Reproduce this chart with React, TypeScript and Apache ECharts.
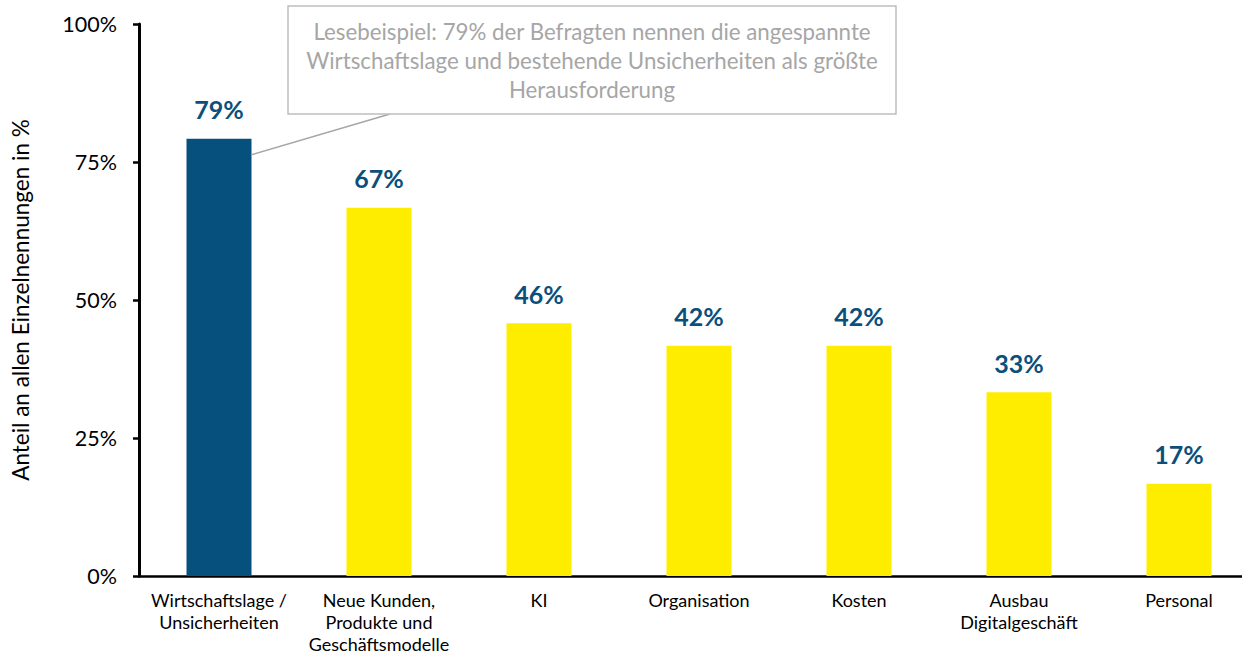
import React, { useEffect, useRef } from "react";
import * as echarts from "echarts";

const categories = [
  "Wirtschaftslage /\nUnsicherheiten",
  "Neue Kunden,\nProdukte und\nGeschäftsmodelle",
  "KI",
  "Organisation",
  "Kosten",
  "Ausbau\nDigitalgeschäft",
  "Personal",
];
const values = [79.2, 66.7, 45.8, 41.7, 41.7, 33.3, 16.7];
const barColors = ["#06507E", "#FFED00", "#FFED00", "#FFED00", "#FFED00", "#FFED00", "#FFED00"];
const yTicks = [0, 25, 50, 75, 100];
const yAxisTitle = "Anteil an allen Einzelnennungen in %";
const calloutText =
  "Lesebeispiel: 79% der Befragten nennen die angespannte\nWirtschaftslage und bestehende Unsicherheiten als größte\nHerausforderung";

const FONT = "Lato, 'Open Sans', sans-serif";

export default function App() {
  const ref = useRef<HTMLDivElement>(null);
  useEffect(() => {
    if (!ref.current) return;
    const chart = echarts.init(ref.current, null, { renderer: "svg" });
    const barWidth = 65;
    chart.setOption({
      animation: false,
      textStyle: { fontFamily: FONT },
      grid: { left: 139, top: 24, width: 1120, height: 552, containLabel: false },
      xAxis: {
        type: "category",
        data: categories,
        axisLine: { lineStyle: { color: "#000", width: 2.5 } },
        axisTick: { show: false },
        axisLabel: {
          color: "#000",
          fontSize: 18,
          lineHeight: 22,
          margin: 13,
          interval: 0,
          fontFamily: FONT,
        },
      },
      yAxis: {
        type: "value",
        min: 0,
        max: 100,
        interval: 25,
        name: yAxisTitle,
        nameLocation: "middle",
        nameGap: 107,
        nameTextStyle: { color: "#000", fontSize: 22.5, fontFamily: FONT },
        axisLine: { show: true, lineStyle: { color: "#000", width: 3 } },
        axisTick: { show: true, length: 6, lineStyle: { color: "#000", width: 2.5 } },
        splitLine: { show: false },
        axisLabel: {
          color: "#000",
          fontSize: 21.5,
          margin: 22,
          fontFamily: FONT,
          formatter: (v: number) => (yTicks.includes(v) ? v + "%" : ""),
        },
      },
      series: [
        {
          type: "bar",
          barWidth,
          data: values.map((v, i) => ({ value: v, itemStyle: { color: barColors[i] } })),
          label: {
            show: true,
            position: "top",
            distance: 17,
            color: "#0B4F7C",
            fontSize: 25,
            fontWeight: "bold",
            fontFamily: FONT,
            formatter: (p: any) => Math.round(p.value) + "%",
          },
        },
      ],
    });
    const top = chart.convertToPixel({ xAxisIndex: 0, yAxisIndex: 0 }, [0, values[0]]) as number[];
    const sx = top[0] + barWidth / 2;
    const sy = top[1] + 16;
    chart.setOption({
      graphic: [
        {
          type: "rect",
          shape: { x: 288, y: 6, width: 608, height: 108 },
          style: { fill: "#fff", stroke: "#BFBFBF", lineWidth: 1.5 },
          z: 10,
        },
        {
          type: "text",
          x: 592,
          y: 17,
          style: {
            text: calloutText,
            textAlign: "center",
            fill: "#A6A6A6",
            fontSize: 22.3,
            lineHeight: 29,
            fontFamily: FONT,
          },
          z: 11,
        },
        {
          type: "line",
          shape: { x1: sx, y1: sy, x2: 390, y2: 114 },
          style: { stroke: "#A6A6A6", lineWidth: 1.5 },
          z: 9,
        },
      ],
    });
    return () => chart.dispose();
  }, []);
  return (
    <div
      ref={ref}
      style={{ position: "fixed", left: 0, top: 0, width: 1280, height: 655, background: "#fff" }}
    />
  );
}
